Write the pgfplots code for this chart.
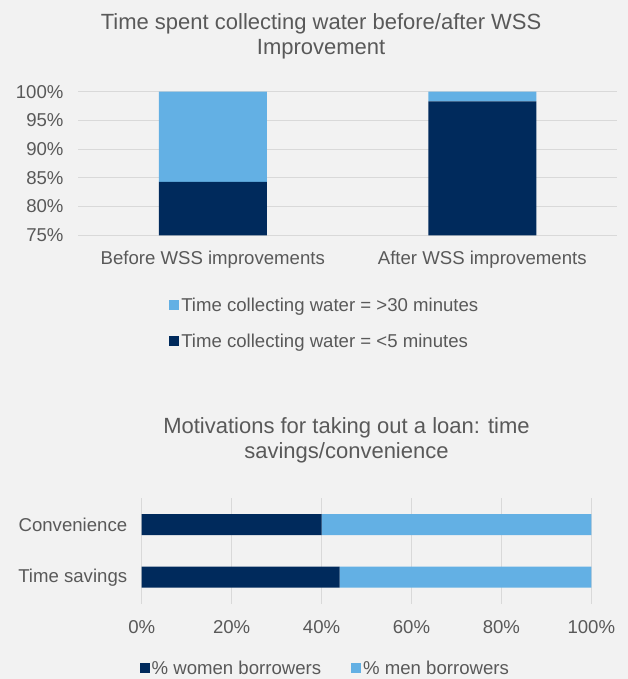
\documentclass[border=0pt]{standalone}
\usepackage{fontspec}
\setmainfont{Liberation Sans}
\usepackage{pgfplots}
\pgfplotsset{compat=1.18}
\definecolor{bgc}{HTML}{F2F2F2}
\definecolor{darkb}{HTML}{002A5C}
\definecolor{lightb}{HTML}{63B0E4}
\definecolor{gridc}{HTML}{D9D9D9}
\definecolor{txt}{HTML}{595959}
\pgfplotsset{
  sqleg/.style={legend image code/.code={\fill[##1] (0bp,-5bp) rectangle (10bp,5bp);}},
  mystyle/.style={
    scale only axis,
    font=\fontsize{18.6bp}{22bp}\selectfont,
    /pgf/number format/assume math mode=true,
    axis line style={draw=none},
    major tick length=0pt,
    tick label style={text=txt},
    grid style={gridc, line width=1bp},
    title style={font=\fontsize{22bp}{25bp}\selectfont, text=txt, align=center, anchor=center},
    legend style={draw=none, fill=none, inner sep=0pt, text=txt,
      font=\fontsize{18.6bp}{22bp}\selectfont, cells={anchor=west},
      /tikz/every odd column/.append style={column sep=0bp}},
    every axis plot post/.append style={sqleg},
  }
}
\begin{document}
\begin{tikzpicture}
\useasboundingbox (0,0) rectangle (628bp,679bp);
\fill[bgc] (0,0) rectangle (628bp,679bp);
\begin{axis}[mystyle,
  at={(78bp,443.7bp)}, anchor=south west,
  width=539bp, height=143.6bp,
  ybar stacked, bar width=108bp,
  xmin=-0.5, xmax=1.5, xtick={0,1},
  xticklabels={Before WSS improvements, After WSS improvements},
  xticklabel style={yshift=-12bp},
  ymin=75, ymax=100, ytick={75,80,...,100},
  yticklabel={\pgfmathprintnumber{\tick}\%},
  yticklabel style={xshift=-11bp},
  ymajorgrids,
  title={Time spent collecting water before/after WSS\\Improvement},
  title style={at={(0.451,1.345)}},
  reverse legend,
  legend style={at={(0.169,-0.42)}, anchor=north west, legend columns=1,
    row sep=17bp},
]
\addplot[fill=darkb, draw=none] coordinates {(0,84.3) (1,98.3)};
\addlegendentry{Time collecting water = <5 minutes}
\addplot[fill=lightb, draw=none] coordinates {(0,15.7) (1,1.7)};
\addlegendentry{Time collecting water = >30 minutes}
\end{axis}
\begin{axis}[mystyle,
  at={(141.7bp,75.5bp)}, anchor=south west,
  width=449.6bp, height=105.2bp,
  xbar stacked, bar width=21bp,
  ymin=-0.5, ymax=1.5, ytick={0,1},
  yticklabels={Time savings, Convenience},
  yticklabel style={xshift=-11bp},
  xmin=0, xmax=100, xtick={0,20,...,100},
  xticklabel={\pgfmathprintnumber{\tick}\%},
  xticklabel style={yshift=-13bp},
  xmajorgrids,
  title={Motivations for taking out a loan: time\\savings/convenience},
  title style={at={(0.4555,1.49)}},
  legend style={at={(-0.005,-0.615)}, anchor=west, legend columns=2,
    /tikz/every even column/.append style={column sep=28bp}},
]
\addplot[fill=darkb, draw=none] coordinates {(44,0) (40,1)};
\addlegendentry{\% women borrowers}
\addplot[fill=lightb, draw=none] coordinates {(56,0) (60,1)};
\addlegendentry{\% men borrowers}
\end{axis}
\end{tikzpicture}
\end{document}
